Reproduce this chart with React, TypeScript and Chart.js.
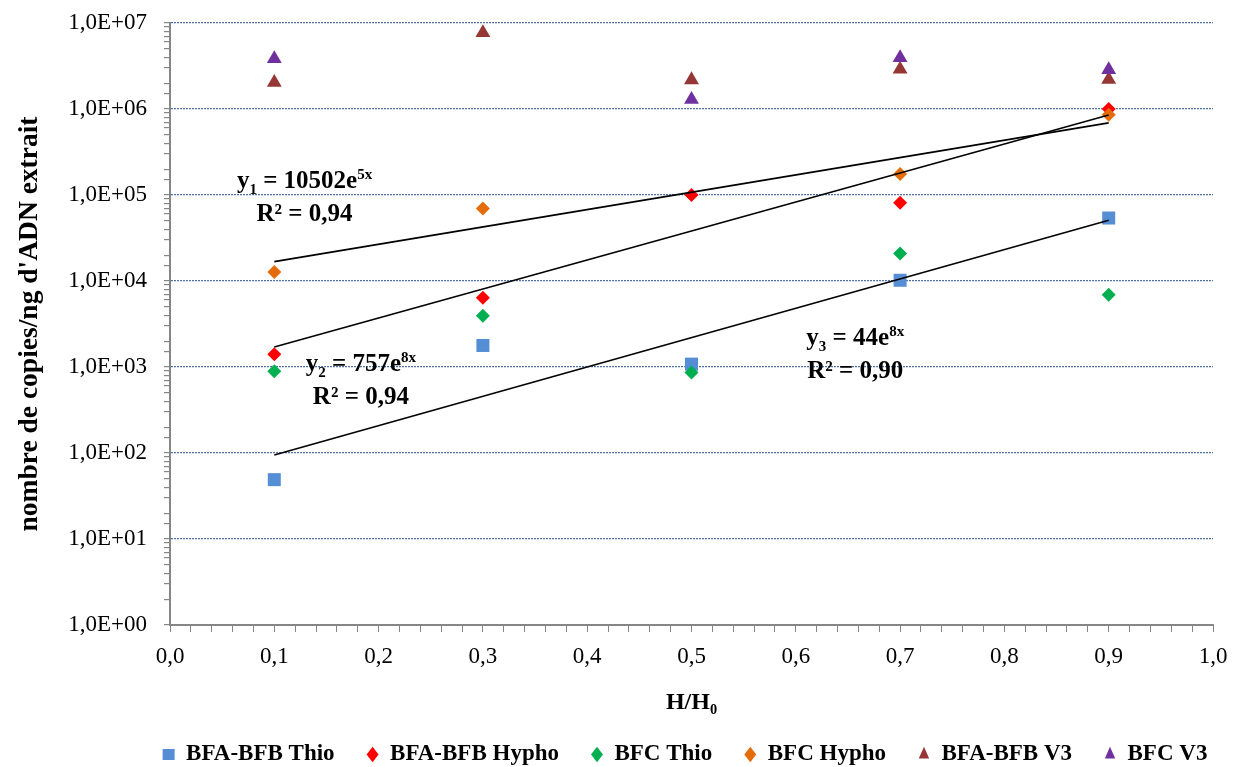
import React, { useEffect, useRef } from 'react';
import { Chart, registerables } from 'chart.js';

Chart.register(...registerables);

const FONT = "'Liberation Serif', 'Times New Roman', serif";

// Data
const xPositions = [0.1, 0.3, 0.5, 0.7, 0.9];
const bfaBfbThio = [49, 1780, 1080, 10200, 54000];
const bfaBfbHypho = [1410, 6400, 100000, 81000, 1000000];
const bfcThio = [890, 3950, 865, 20900, 6900];
const bfcHypho = [12700, 69700, null, 175000, 860000];
const bfaBfbV3 = [2030000, 7700000, 2180000, 2900000, 2200000];
const bfcV3 = [3840000, null, 1290000, 3940000, 2860000];

const seriesNames = ['BFA-BFB Thio', 'BFA-BFB Hypho', 'BFC Thio', 'BFC Hypho', 'BFA-BFB V3', 'BFC V3'];
const seriesValues = [bfaBfbThio, bfaBfbHypho, bfcThio, bfcHypho, bfaBfbV3, bfcV3];
const seriesColors = ['#558ED5', '#FF0000', '#00B050', '#E46C0A', '#953735', '#7030A0'];
const seriesStyles = ['rect', 'rectRot', 'rectRot', 'rectRot', 'triangle', 'triangle'];
const seriesRadius = [9.2, 7, 7, 7, 8.6, 8.6];

// Trend lines (exponential fits, straight on log axis)
const trendX = [0.1, 0.9];
const trend1 = [16800, 690000];
const trend2 = [1710, 850000];
const trend3 = [95, 51000];

// Equation labels (position in data units: centre x, baseline y)
const equationX = [0.129, 0.183, 0.657];
const equationY = [120000, 910, 1780];
const equationSub = ['1', '2', '3'];
const equationCoef = [' = 10502e', ' = 757e', ' = 44e'];
const equationExp = ['5x', '8x', '8x'];
const equationR2 = ['R² = 0,94', 'R² = 0,94', 'R² = 0,90'];

const xTitle = 'H/H₀';
const yTitle = "nombre de copies/ng d'ADN extrait";

const equationPlugin = {
  id: 'equations',
  afterDatasetsDraw(chart: any) {
    const { ctx } = chart;
    const xs = chart.scales.x;
    const ys = chart.scales.y;
    const mainFont = `bold 25px ${FONT}`;
    const smallFont = `bold 15px ${FONT}`;
    ctx.save();
    ctx.fillStyle = '#000';
    ctx.textBaseline = 'alphabetic';
    for (let i = 0; i < equationX.length; i++) {
      const cx = xs.getPixelForValue(equationX[i]);
      const by = ys.getPixelForValue(equationY[i]);
      ctx.font = mainFont;
      const wY = ctx.measureText('y').width;
      const wC = ctx.measureText(equationCoef[i]).width;
      ctx.font = smallFont;
      const wS = ctx.measureText(equationSub[i]).width;
      const wE = ctx.measureText(equationExp[i]).width;
      let px = cx - (wY + wS + wC + wE) / 2;
      ctx.textAlign = 'left';
      ctx.font = mainFont;
      ctx.fillText('y', px, by);
      px += wY;
      ctx.font = smallFont;
      ctx.fillText(equationSub[i], px, by + 6);
      px += wS;
      ctx.font = mainFont;
      ctx.fillText(equationCoef[i], px, by);
      px += wC;
      ctx.font = smallFont;
      ctx.fillText(equationExp[i], px, by - 9);
      ctx.font = mainFont;
      ctx.textAlign = 'center';
      ctx.fillText(equationR2[i], cx, by + 33);
    }
    ctx.restore();
  },
};

function isDecade(v: number) {
  const l = Math.log10(v);
  return Math.abs(l - Math.round(l)) < 1e-9;
}

function zeroPadding(s: any) {
  s.paddingTop = 0;
  s.paddingBottom = 0;
  s.paddingLeft = 0;
  s.paddingRight = 0;
}

export default function App() {
  const canvasRef = useRef<HTMLCanvasElement | null>(null);

  useEffect(() => {
    if (!canvasRef.current) return;
    Chart.defaults.font.family = FONT;
    Chart.defaults.color = '#000';

    const scatterSets = seriesNames.map((name, i) => ({
      label: name,
      data: xPositions
        .map((xv, j) => ({ x: xv, y: seriesValues[i][j] }))
        .filter((p) => p.y !== null),
      showLine: false,
      pointStyle: seriesStyles[i],
      pointRadius: seriesRadius[i],
      pointBackgroundColor: seriesColors[i],
      pointBorderColor: seriesColors[i],
      pointBorderWidth: 0,
      backgroundColor: seriesColors[i],
      borderColor: seriesColors[i],
      borderWidth: 0,
      order: 10 - i,
    }));

    const trends = [trend1, trend2, trend3].map((t, k) => ({
      label: 'trend' + (k + 1),
      data: trendX.map((xv, j) => ({ x: xv, y: t[j] })),
      showLine: true,
      borderColor: '#000',
      borderWidth: 1.6,
      pointRadius: 0,
      fill: false,
      order: -1,
    }));

    const chart = new Chart(canvasRef.current, {
      type: 'scatter',
      data: { datasets: [...scatterSets, ...trends] as any },
      plugins: [equationPlugin],
      options: {
        animation: false,
        responsive: true,
        maintainAspectRatio: false,
        events: [],
        layout: { padding: { left: 0, right: -136, top: 23, bottom: 0 } },
        plugins: {
          tooltip: { enabled: false },
          legend: {
            position: 'bottom',
            align: 'center',
            labels: {
              usePointStyle: true,
              pointStyleWidth: 12,
              boxHeight: 11,
              padding: 32,
              color: '#000',
              font: { size: 23, weight: 'bold', family: FONT },
              filter: (item: any) => item.datasetIndex < seriesNames.length,
              sort: (a: any, b: any) => a.datasetIndex - b.datasetIndex,
            },
          },
        },
        scales: {
          x: {
            type: 'linear',
            position: 'bottom',
            min: 0,
            max: 1,
            ticks: {
              stepSize: 0.02,
              autoSkip: false,
              maxRotation: 0,
              padding: 11,
              color: '#000',
              font: { size: 23, family: FONT },
              callback: (v: any) =>
                Math.round(Number(v) * 50) % 5 === 0 ? Number(v).toFixed(1).replace('.', ',') : '',
            },
            grid: { drawOnChartArea: false, tickLength: 7, tickColor: '#868686', color: '#868686' },
            border: { color: '#868686', width: 2 },
            title: {
              display: true,
              text: xTitle,
              color: '#000',
              font: { size: 24, weight: 'bold', family: FONT },
              padding: { top: 0, bottom: -6.4 },
            },
            afterFit: (s: any) => {
              s.height = 86;
              zeroPadding(s);
            },
          },
          y: {
            type: 'logarithmic',
            position: 'left',
            min: 1,
            max: 10000000,
            ticks: {
              autoSkip: false,
              padding: 17,
              color: '#000',
              font: { size: 23, family: FONT },
              callback: (v: any) => {
                const n = Number(v);
                if (!isDecade(n)) return '';
                const e = Math.round(Math.log10(n));
                return '1,0E+' + String(e).padStart(2, '0');
              },
            },
            grid: {
              drawOnChartArea: true,
              lineWidth: 1.2,
              tickLength: 6,
              tickColor: '#868686',
              color: (ctx: any) => {
                const v = ctx.tick ? ctx.tick.value : 0;
                return isDecade(v) && v > 1 ? '#4F71A6' : 'rgba(0,0,0,0)';
              },
            },
            border: { color: '#868686', width: 2, dash: [2, 1] },
            title: {
              display: true,
              text: yTitle,
              color: '#000',
              font: { size: 27.5, weight: 'bold', family: FONT },
              padding: { top: 13.5, bottom: 0 },
            },
            afterFit: (s: any) => {
              s.width = 170;
              zeroPadding(s);
            },
          },
          yRight: {
            type: 'linear',
            position: 'right',
            display: true,
            grid: { display: false, drawTicks: false },
            ticks: { display: false },
            border: { display: false },
            afterFit: (s: any) => {
              s.width = 157;
              zeroPadding(s);
            },
          },
        },
      } as any,
    });

    return () => {
      chart.destroy();
    };
  }, []);

  return (
    <div style={{ position: 'fixed', left: 0, top: 0, width: '1234px', height: '776px', background: '#fff' }}>
      <canvas ref={canvasRef} />
    </div>
  );
}
